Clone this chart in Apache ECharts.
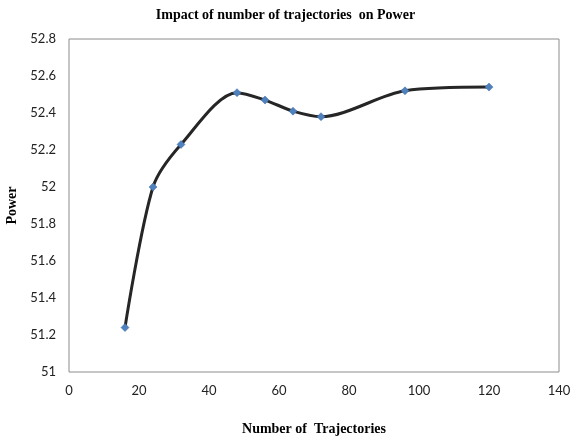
<!DOCTYPE html>
<html>
<head>
<meta charset="utf-8">
<script src="https://cdn.jsdelivr.net/npm/echarts@6/dist/echarts.min.js"></script>
<style>
  html, body { margin: 0; padding: 0; background: #fff; }
  #main { width: 571px; height: 437px; }
</style>
</head>
<body>
<div id="main"></div>
<script>
// trajectories (x) and power (y)
const trajectories = [16, 24, 32, 48, 56, 64, 72, 96, 120]
const power = [51.24, 52.0, 52.23, 52.51, 52.47, 52.41, 52.38, 52.52, 52.54]

const chart = echarts.init(document.getElementById('main'))
const option = {
  animation: false,
  title: {
    text: 'Impact of number of trajectories  on Power',
    left: 'center',
    top: 3,
    textStyle: {
      fontFamily: 'Liberation Serif',
      fontWeight: 'bold',
      fontSize: 14,
      color: '#000'
    }
  },
  grid: {
    left: 69,
    right: 12,
    top: 39,
    bottom: 65,
    outerBoundsMode: 'none',
    show: true,
    borderColor: '#8c8c8c',
    borderWidth: 1
  },
  xAxis: {
    type: 'value',
    min: 0,
    max: 140,
    interval: 20,
    name: 'Number of  Trajectories',
    nameLocation: 'middle',
    nameGap: 50,
    nameTextStyle: {
      fontFamily: 'Liberation Serif',
      fontWeight: 'bold',
      fontSize: 14,
      color: '#000'
    },
    axisLine: { show: false },
    axisTick: { show: false },
    splitLine: { show: false },
    axisLabel: {
      margin: 12,
      fontFamily: 'Lato',
      fontSize: 13,
      color: '#222'
    }
  },
  yAxis: {
    type: 'value',
    min: 51,
    max: 52.8,
    interval: 0.2,
    name: 'Power',
    nameLocation: 'middle',
    nameGap: 48,
    nameTextStyle: {
      fontFamily: 'Liberation Serif',
      fontWeight: 'bold',
      fontSize: 14,
      color: '#000'
    },
    axisLine: { show: false },
    axisTick: { show: false },
    splitLine: { show: false },
    axisLabel: {
      margin: 13,
      fontFamily: 'Lato',
      fontSize: 13,
      color: '#222',
      formatter: function (v) { return String(Math.round(v * 10) / 10) }
    }
  },
  series: [
    {
      type: 'line',
      data: trajectories.map((t, i) => [t, power[i]]),
      smooth: 0.3,
      lineStyle: { color: '#262626', width: 3 },
      symbol: 'diamond',
      symbolSize: 8,
      itemStyle: { color: '#4f81bd', borderColor: '#3a6aa5', borderWidth: 0.5 },
      z: 3
    }
  ]
}
chart.setOption(option)
</script>
</body>
</html>
